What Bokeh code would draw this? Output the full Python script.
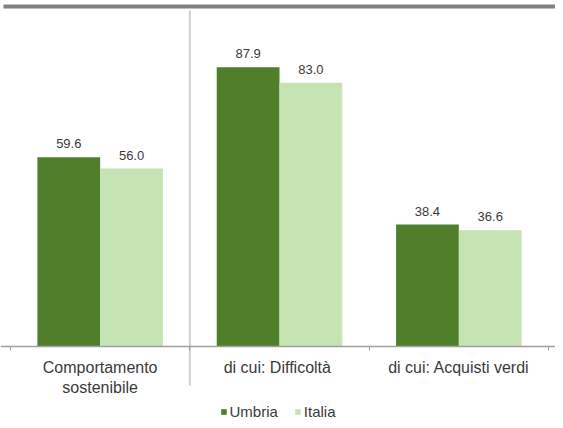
from bokeh.plotting import figure
from bokeh.models import ColumnDataSource, FixedTicker, Legend, LegendItem, BoxAnnotation
from bokeh.embed import file_html
from bokeh.resources import INLINE
from bokeh.core.properties import value

# ---- data ----
categories = ["Comportamento\nsostenibile", "di cui:  Difficoltà", "di cui: Acquisti verdi"]
series_names = ["Umbria", "Italia"]
umbria = [59.6, 87.9, 38.4]
italia = [56.0, 83.0, 36.6]

# ---- layout constants ----
W, H = 555, 420
PX_X = 538 / 3.0
PX_Y = 3.177
AXIS_Y = 346
LEFT_TICK = 10
FONT = "Liberation Sans"
TXT = "#3a3a3a"
C_UMB = "#4f7f2a"
C_ITA = "#c6e3b3"

x_start = -0.5 - LEFT_TICK / PX_X
x_end = x_start + W / PX_X
y_end = AXIS_Y / PX_Y
y_start = -(H - AXIS_Y) / PX_Y

idx = list(range(len(categories)))
bw = 0.35
src = ColumnDataSource(dict(
    xu=[i - bw / 2 for i in idx], xi=[i + bw / 2 for i in idx],
    umbria=umbria, italia=italia,
    lu=[f"{v:.1f}" for v in umbria], li=[f"{v:.1f}" for v in italia],
))

p = figure(width=W, height=H, x_range=(x_start, x_end), y_range=(y_start, y_end),
           output_backend="svg", toolbar_location=None, min_border=0,
           y_axis_location=None)
p.grid.visible = False
p.outline_line_color = None
p.background_fill_color = "white"

r1 = p.vbar(x="xu", top="umbria", width=bw, source=src, fill_color=C_UMB, line_color=None)
r2 = p.vbar(x="xi", top="italia", width=bw, source=src, fill_color=C_ITA, line_color=None)

for xcol, ycol, lcol in (("xu", "umbria", "lu"), ("xi", "italia", "li")):
    p.text(x=xcol, y=ycol, text=lcol, source=src, text_align="center", text_baseline="bottom",
           y_offset=-9, text_font=value(FONT), text_font_size="13px", text_color=TXT)

# separator between total and "di cui" groups
p.segment(x0=[0.5], y0=[(AXIS_Y - 10) / PX_Y], x1=[0.5], y1=[-(385 - AXIS_Y) / PX_Y],
          line_color="#cfcfcf", line_width=2)

# top rule
p.add_layout(BoxAnnotation(top=(AXIS_Y - 4) / PX_Y, bottom=(AXIS_Y - 8) / PX_Y,
                           left=x_start + 3 / PX_X, fill_color="#808080",
                           fill_alpha=1, line_color=None))

ax = p.xaxis[0]
ax.fixed_location = 0
ax.ticker = FixedTicker(ticks=idx, minor_ticks=[i - 0.5 for i in idx] + [idx[-1] + 0.5])
ax.major_label_overrides = {i: c for i, c in zip(idx, categories)}
ax.major_tick_line_color = None
ax.minor_tick_line_color = "#a0a0a0"
ax.minor_tick_out = 4
ax.minor_tick_in = 0
ax.axis_line_color = "#a0a0a0"
ax.axis_line_width = 1.5
ax.major_label_standoff = 6
ax.major_label_text_font = FONT
ax.major_label_text_font_size = "16px"
ax.major_label_text_color = TXT

legend = Legend(items=[LegendItem(label=series_names[0], renderers=[r1]),
                       LegendItem(label=series_names[1], renderers=[r2])],
                location="bottom_center", orientation="horizontal",
                border_line_color=None, background_fill_alpha=0,
                label_text_font=FONT, label_text_font_size="15px", label_text_color=TXT,
                label_height=12, glyph_width=7, glyph_height=7, label_standoff=3, spacing=16,
                padding=0, margin=0)
p.add_layout(legend, "center")

open("out.html", "w").write(file_html(p, INLINE))
